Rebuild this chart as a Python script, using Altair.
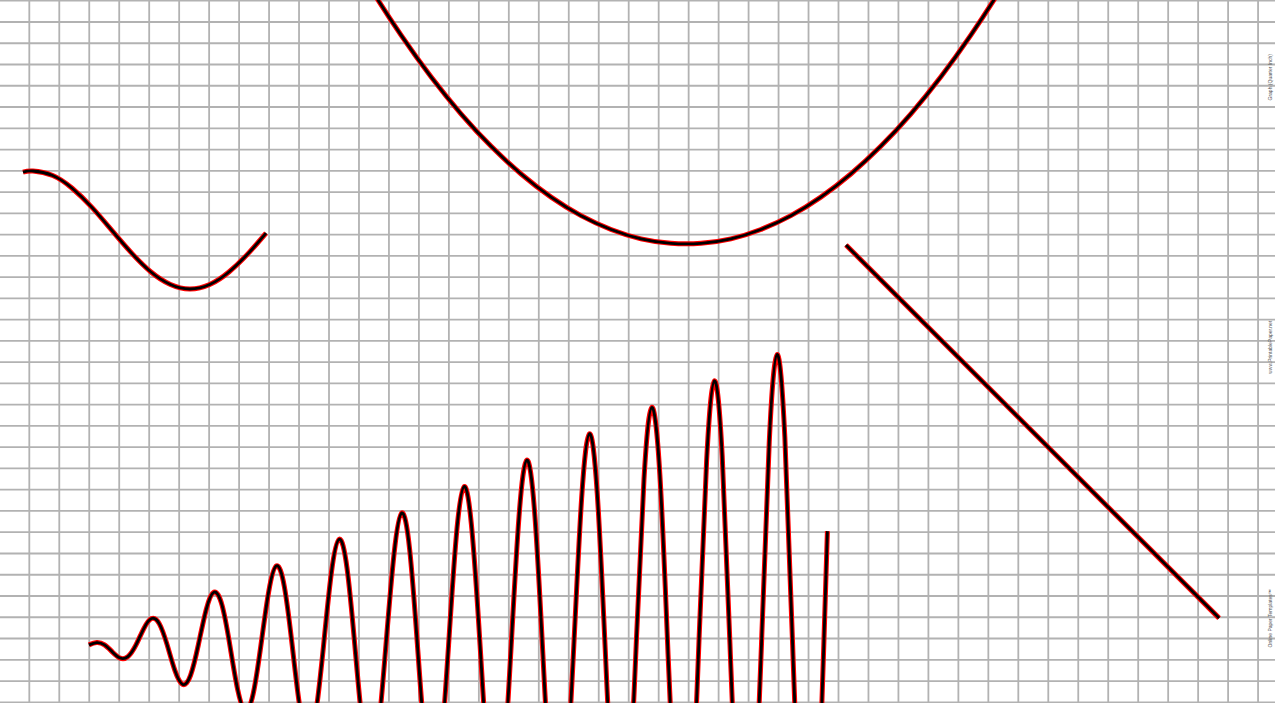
import altair as alt
import pandas as pd

# Graph-paper coordinates: one grid cell = 1 unit on each axis
grid_x = list(range(0, 42))
grid_y = list(range(0, 34))

# Cosine-like curve (upper left)
cos_x = [-0.21, 0.12, 0.78, 1.43, 2.09, 2.74, 3.40, 4.05, 4.71, 5.36, 6.02, 6.67, 7.33, 7.90]
cos_y = [24.94, 24.99, 24.78, 24.18, 23.28, 22.22, 21.15, 20.25, 19.65, 19.44, 19.65, 20.25, 21.15, 22.07]

# Parabola (top centre)
par_x = [9.41, 10.41, 11.41, 12.41, 13.41, 14.41, 15.41, 16.41, 17.41, 18.41, 19.41, 20.41, 21.41,
         22.41, 23.41, 24.41, 25.41, 26.41, 27.41, 28.41, 29.41, 30.41, 31.41, 32.41, 33.41, 34.41]
par_y = [38.54, 35.94, 33.54, 31.37, 29.41, 27.67, 26.15, 24.85, 23.76, 22.89, 22.24, 21.80, 21.59,
         21.59, 21.80, 22.24, 22.89, 23.76, 24.85, 26.15, 27.67, 29.41, 31.37, 33.54, 35.94, 38.54]

# Straight line (right)
line_x = [27.25, 39.70]
line_y = [21.51, 3.96]

# Growing oscillation (bottom)
osc_x = [1.99, 2.25, 2.51, 2.77, 3.03, 3.29, 3.56, 3.82, 4.08, 4.34, 4.60, 4.86, 5.12, 5.38, 5.64, 5.90,
         6.16, 6.43, 6.69, 6.95, 7.21, 7.47, 7.73, 7.99, 8.25, 8.51, 8.77, 9.03, 9.30, 9.56, 9.82, 10.08,
         10.34, 10.60, 10.86, 11.12, 11.38, 11.64, 11.90, 12.17, 12.43, 12.69, 12.95, 13.21, 13.47, 13.73,
         13.99, 14.25, 14.51, 14.77, 15.04, 15.30, 15.56, 15.82, 16.08, 16.34, 16.60, 16.86, 17.12, 17.38,
         17.64, 17.90, 18.17, 18.43, 18.69, 18.95, 19.21, 19.47, 19.73, 19.99, 20.25, 20.51, 20.77, 21.04,
         21.30, 21.56, 21.82, 22.08, 22.34, 22.60, 22.86, 23.12, 23.38, 23.64, 23.91, 24.17, 24.43, 24.69,
         24.95, 25.21, 25.47, 25.73, 25.99, 26.25, 26.51, 26.63]
osc_y = [2.70, 2.81, 2.70, 2.37, 2.08, 2.15, 2.70, 3.47, 3.94, 3.69, 2.70, 1.49, 0.84, 1.27, 2.70, 4.35,
         5.18, 4.57, 2.70, 0.61, -0.40, 0.40, 2.70, 5.22, 6.42, 5.44, 2.70, -0.26, -1.65, -0.48, 2.70, 6.10,
         7.67, 6.32, 2.70, -1.14, -2.89, -1.36, 2.70, 6.98, 8.91, 7.20, 2.70, -2.02, -4.13, -2.24,
         2.70, 7.86, 10.15, 8.08, 2.70, -2.90, -5.37, -3.12, 2.70, 8.74, 11.39, 8.96, 2.70, -3.77,
         -6.61, -3.99, 2.70, 9.61, 12.63, 9.83, 2.70, -4.65, -7.85, -4.87, 2.70, 10.49, 13.87, 10.71,
         2.70, -5.53, -9.10, -5.75, 2.70, 11.37, 15.12, 11.59, 2.70, -6.41, -10.34, -6.63, 2.70, 12.25,
         16.36, 12.47, 2.70, -7.29, -11.58, -7.51, 2.70, 8.05]

# Vertical margin labels
note_text = ["Graph (Quarter Inch)", "www.PrintablePaper.net", "Online Paper Templates\u2122"]
note_x = [41.40, 41.40, 41.40]
note_y = [29.40, 16.70, 3.95]

rows = []
for name, xs, ys in [("cos", cos_x, cos_y), ("parabola", par_x, par_y),
                     ("line", line_x, line_y), ("osc", osc_x, osc_y)]:
    for i, (a, b) in enumerate(zip(xs, ys)):
        rows.append({"curve": name, "i": i, "x": a, "y": b})
curves = pd.DataFrame(rows)
notes = pd.DataFrame({"t": note_text, "x": note_x, "y": note_y})
gx = pd.DataFrame({"g": grid_x})
gy = pd.DataFrame({"g": grid_y})

xscale = alt.Scale(domain=[-0.978, 41.565], nice=False, zero=False)
yscale = alt.Scale(domain=[-0.033, 33.034], nice=False, zero=False)

vgrid = alt.Chart(gx).mark_rule(color="#b2b2b2", strokeWidth=1.8).encode(
    x=alt.X("g:Q", scale=xscale, axis=None)
)
hgrid = alt.Chart(gy).mark_rule(color="#b2b2b2", strokeWidth=1.8).encode(
    y=alt.Y("g:Q", scale=yscale, axis=None)
)

base = alt.Chart(curves).encode(
    x=alt.X("x:Q", scale=xscale, axis=None),
    y=alt.Y("y:Q", scale=yscale, axis=None),
    detail="curve:N",
    order=alt.Order("i:Q"),
)

red = base.mark_line(color="#ff0000", strokeWidth=5, interpolate="natural", clip=True)
black = base.mark_line(color="#000000", strokeWidth=2.8, interpolate="natural", clip=True)

text = alt.Chart(notes).mark_text(angle=270, fontSize=5, color="#555555", font="Liberation Sans").encode(
    x=alt.X("x:Q", scale=xscale, axis=None),
    y=alt.Y("y:Q", scale=yscale, axis=None),
    text="t:N",
)

chart = alt.layer(vgrid, hgrid, red, black, text).properties(
    width=1275, height=703, padding=0, autosize="none", background="white"
).configure_view(stroke=None)

chart.save("out.html", embed_options={"renderer": "svg", "actions": False})
